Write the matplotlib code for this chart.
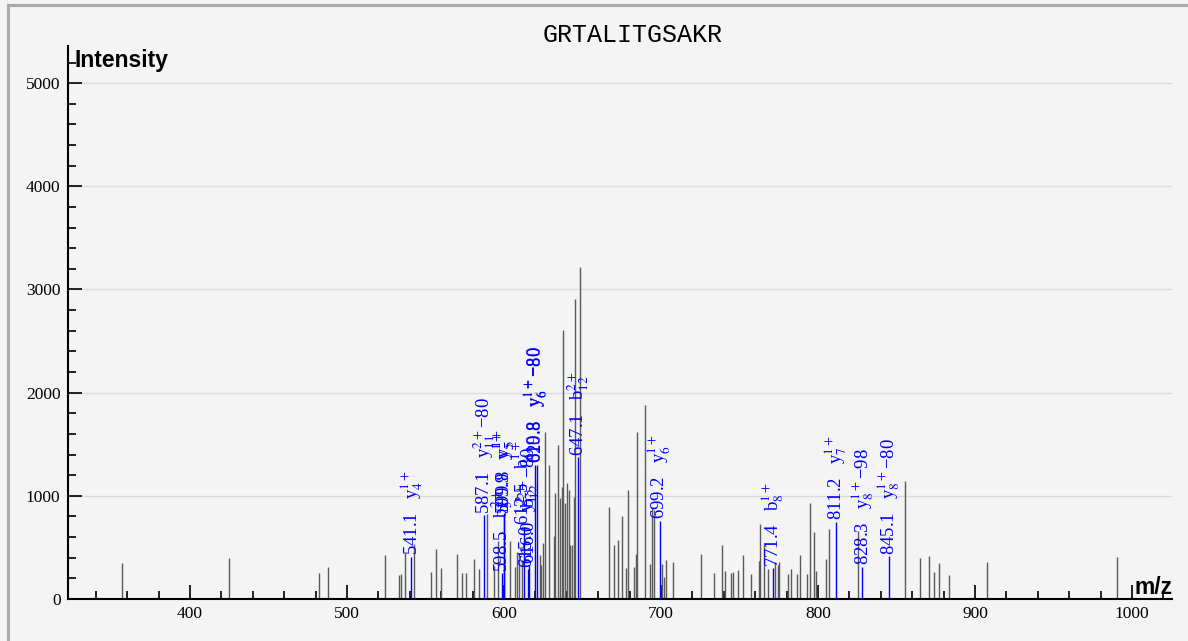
import matplotlib
matplotlib.use("Agg")
import matplotlib.pyplot as plt
from matplotlib.lines import Line2D
from matplotlib.ticker import MultipleLocator

plt.rcParams['mathtext.fontset'] = 'stix'

# 谱图数据 (m/z, intensity) — 未注释的峰
peak_mz = [357.0, 425.0, 482.0, 487.7, 524.0, 533.0, 534.4, 536.7, 542.7,
           553.7, 556.9, 559.9, 569.8, 573.2, 576.0, 581.1, 583.9, 589.0,
           593.8, 595.9, 603.6, 607.0, 608.1, 609.7, 611.3, 622.9, 623.8,
           625.1, 626.2, 628.4, 631.7, 632.3, 634.4, 635.7, 636.8, 637.8,
           638.9, 639.9, 641.2, 642.2, 643.5, 644.8, 645.4, 648.2, 666.9,
           670.3, 672.8, 675.0, 678.0, 679.0, 682.8, 683.9, 685.0, 690.0,
           693.2, 694.1, 695.7, 700.8, 702.0, 702.9, 707.6, 725.3, 734.0,
           739.1, 741.0, 744.6, 746.1, 748.9, 752.1, 757.1, 762.2, 763.3,
           765.8, 768.3, 772.6, 774.3, 775.5, 781.1, 783.0, 786.4, 788.3,
           793.0, 795.1, 797.6, 798.9, 804.9, 807.2, 825.3, 855.3, 865.2,
           871.0, 874.1, 877.2, 883.4, 907.6, 990.4]
peak_int = [350, 400, 250, 315, 425, 230, 240, 450, 530,
            265, 480, 300, 435, 250, 255, 390, 295, 820,
            320, 560, 560, 310, 460, 450, 380, 425, 330,
            540, 1620, 1300, 610, 1025, 1490, 980, 1090, 2605,
            930, 1120, 1055, 523, 523, 990, 2905, 3215, 890,
            520, 570, 800, 300, 1055, 315, 435, 1620, 1885,
            340, 880, 860, 340, 215, 375, 360, 435, 255,
            525, 275, 250, 260, 285, 430, 240, 370, 725,
            535, 290, 360, 330, 360, 245, 295, 240, 430,
            240, 935, 650, 275, 385, 680, 660, 1145, 400,
            415, 258, 345, 235, 355, 405]

# 注释的碎片离子
ann_mz = [541.1, 587.1, 598.5, 599.8, 599.9, 612.5, 615.0, 616.0, 619.8,
          620.8, 647.1, 699.2, 771.4, 811.2, 828.3, 845.1]
ann_int = [410, 815, 250, 830, 810, 700, 290, 330, 1300,
           1300, 1375, 760, 300, 750, 313, 417]
ann_ion = ['y$_{4}^{1+}$', 'y$_{11}^{2+}$\u221280', 'b$_{5}^{2+}$', 'y$_{5}^{1+}$',
           'y$_{5}^{1+}$', 'b$_{6}^{1+}$', 'y$_{12}^{2+}$', 'b$_{12}^{2+}$\u221280',
           'y$_{6}^{1+}$\u221280', 'y$_{6}^{1+}$\u221280', 'b$_{12}^{2+}$',
           'y$_{6}^{1+}$', 'b$_{8}^{1+}$', 'y$_{7}^{1+}$',
           'y$_{8}^{1+}$\u221298', 'y$_{8}^{1+}$\u221280']

title = 'GRTALITGSAKR'

W, H = 1188, 641
fig = plt.figure(figsize=(W / 100, H / 100), dpi=100, facecolor='#f4f4f4')
ax = fig.add_axes([67.5 / W, 42 / H, (1172 - 67.5) / W, (599 - 46) / H])
ax.set_facecolor('#f4f4f4')

ax.set_xlim(322, 1025.5)
ax.set_ylim(0, 5360)

for yv in range(1000, 6000, 1000):
    ax.axhline(yv, color='#dcdcdc', lw=1, zorder=0)

ax.vlines(peak_mz, 0, peak_int, colors='#5a5a5a', lw=1, zorder=2)
ax.vlines(ann_mz, 0, ann_int, colors='#0000ff', lw=1, zorder=3)

for mz, inten, ion in zip(ann_mz, ann_int, ann_ion):
    ax.annotate(f"{mz:.1f}   {ion}", xy=(mz, inten), xytext=(0, 1),
                textcoords='offset points', rotation=90, ha='center',
                va='bottom', color='#0000ff', fontsize=13.5,
                family='Liberation Serif', zorder=4)

for s in ['top', 'right']:
    ax.spines[s].set_visible(False)
for s in ['left', 'bottom']:
    ax.spines[s].set_linewidth(1.5)

ax.xaxis.set_major_locator(MultipleLocator(100))
ax.xaxis.set_minor_locator(MultipleLocator(20))
ax.yaxis.set_major_locator(MultipleLocator(1000))
ax.yaxis.set_minor_locator(MultipleLocator(200))
ax.tick_params(which='major', direction='in', length=10, width=1.2,
               labelsize=12.5, pad=5)
ax.tick_params(which='minor', direction='in', length=6, width=1.2)
for lab in ax.get_xticklabels() + ax.get_yticklabels():
    lab.set_family('Liberation Serif')

fig.text(633 / W, 1 - 35 / H, title, ha='center', va='center',
         family='Liberation Mono', fontsize=18)
fig.text(74 / W, 1 - 60 / H, 'Intensity', ha='left', va='center',
         family='Liberation Sans', fontweight='bold', fontsize=16.5)
fig.text(1173 / W, 1 - 588 / H, 'm/z', ha='right', va='center',
         family='Liberation Sans', fontweight='bold', fontsize=16.5)

# 外框
fig.add_artist(Line2D([8 / W, 8 / W], [0, 1 - 4.5 / H], transform=fig.transFigure,
                      color='#aaaaaa', lw=2.2))
fig.add_artist(Line2D([8 / W, 1], [1 - 4.5 / H, 1 - 4.5 / H], transform=fig.transFigure,
                      color='#aaaaaa', lw=2.2))

fig.savefig('out.png', dpi=100, facecolor=fig.get_facecolor())
